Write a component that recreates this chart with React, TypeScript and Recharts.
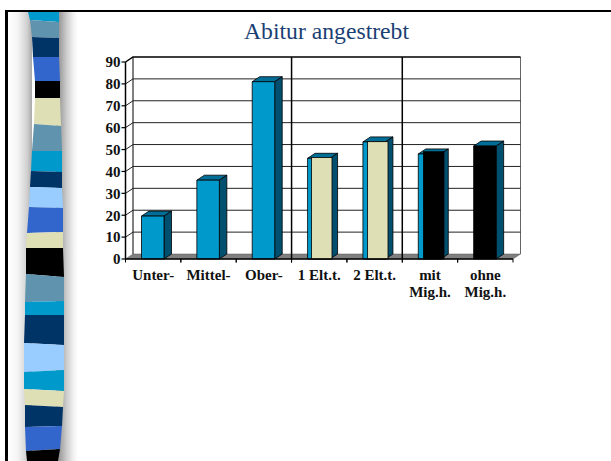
import React from 'react'
import { ComposedChart, Bar, XAxis, YAxis, CartesianGrid, ReferenceLine } from 'recharts'

const categories = ['Unter-', 'Mittel-', 'Ober-', '1 Elt.t.', '2 Elt.t.', 'mit\nMig.h.', 'ohne\nMig.h.']
const baseValues = [19.6, 36, 81, 46, 53.5, 48, 51.6]
const overlayValues = [null, null, null, 46.4, 53.6, 49, null]
const yTicks = [0, 10, 20, 30, 40, 50, 60, 70, 80, 90]
const groupStarts = ['1 Elt.t.', 'mit\nMig.h.']

const data = categories.map((name, i) => ({ name, base: baseValues[i], overlay: overlayValues[i] }))

const W = 611
const H = 461
const PLOT_LEFT = 125.5
const PLOT_RIGHT = 513
const PLOT_TOP = 62
const PLOT_BOTTOM = 259
const DX = 7.5
const DY = 5
const BAND = (PLOT_RIGHT - PLOT_LEFT) / categories.length

const BLUE = '#0099cc'
const TOP = '#006e96'
const SIDE = '#004f6e'
const CREAM = '#dfdfb5'
const FONT = '"Liberation Serif", serif'

const overlayFills = [CREAM, CREAM, CREAM, CREAM, CREAM, '#000', CREAM]
const baseFills = [BLUE, BLUE, BLUE, BLUE, BLUE, BLUE, '#000']

// ribbon edges down the left of the slide: yLeft, yRight, xLeft, xRight
const ribbonEdges = [
  [12, 12, 28, 59], [20, 22, 30, 59], [37, 38, 32, 59], [57, 57, 33, 59], [81, 81, 35, 60],
  [98, 98, 35, 60], [124, 126, 34, 61], [151, 151, 32, 62], [171, 172, 31, 62], [187, 188, 30, 62],
  [207, 208, 29, 63], [233, 232, 27, 63], [248, 248, 26, 63], [274, 277, 26, 64], [302, 301, 25, 64],
  [315, 315, 25, 64], [343, 345, 24, 64], [372, 370, 24, 64], [389, 391, 24, 64], [405, 407, 25, 63],
  [427, 426, 25, 62], [451, 449, 26, 60], [461, 461, 27, 58],
]
const ribbonColors = [
  '#0099cc', '#5f93ae', '#003366', '#3366cc', '#000000', '#dfdfb5', '#5f93ae', '#0099cc', '#003366',
  '#99ccff', '#3366cc', '#dfdfb5', '#000000', '#5f93ae', '#0099cc', '#003366', '#99ccff', '#0099cc',
  '#dfdfb5', '#003366', '#3366cc', '#000000',
]

function Bar3D(props: any) {
  const { x, y, width, height, payload } = props
  if (height == null || height <= 0) return null
  const fill = baseFills[categories.indexOf(payload.name)]
  return (
    <g stroke="#000" strokeWidth={0.8} strokeLinejoin="round">
      <polygon fill={TOP} points={`${x},${y} ${x + DX},${y - DY} ${x + width + DX},${y - DY} ${x + width},${y}`} />
      <polygon fill={SIDE} points={`${x + width},${y} ${x + width + DX},${y - DY} ${x + width + DX},${y + height - DY} ${x + width},${y + height}`} />
      <rect x={x} y={y} width={width} height={height} fill={fill} />
    </g>
  )
}

function OverlayFront(props: any) {
  const { x, y, width, height, payload } = props
  if (height == null || height <= 0) return null
  return <rect x={x} y={y} width={width} height={height} fill={overlayFills[categories.indexOf(payload.name)]} stroke="#000" strokeWidth={0.8} />
}

function gridLine(p: any) {
  const { x1, x2, y1, key } = p
  const isFloor = Math.abs(y1 - PLOT_BOTTOM) < 0.5
  const back = y1 - DY
  if (isFloor) {
    return (
      <g key={key}>
        <line x1={x2 + DX} y1={PLOT_TOP - DY} x2={x2 + DX} y2={back} stroke="#666" strokeWidth={1} />
        <line x1={x1 + DX} y1={PLOT_TOP - DY} x2={x1 + DX} y2={back} stroke="#000" strokeWidth={1} />
        <polygon points={`${x1},${y1} ${x1 + DX},${back} ${x2 + DX},${back} ${x2},${y1}`} fill="#808080" stroke="#555" strokeWidth={0.5} />
      </g>
    )
  }
  return (
    <polyline
      key={key}
      points={`${x1},${y1} ${x1 + DX},${back} ${x2 + DX},${back}`}
      fill="none"
      stroke={y1 <= PLOT_TOP + 0.5 ? '#000' : '#222'}
      strokeWidth={y1 <= PLOT_TOP + 0.5 ? 1.5 : 1}
    />
  )
}

function GroupLine(props: any) {
  const { x1 } = props
  return <line x1={x1} y1={PLOT_TOP - DY} x2={x1} y2={PLOT_BOTTOM} stroke="#000" strokeWidth={1.5} />
}

function CategoryTick(props: any) {
  const { x, payload } = props
  const lines = String(payload.value).split('\n')
  const left = x - BAND / 2
  return (
    <g>
      <line x1={left} y1={PLOT_BOTTOM} x2={left} y2={PLOT_BOTTOM + 3.5} stroke="#000" strokeWidth={1} />
      <line x1={left + BAND} y1={PLOT_BOTTOM} x2={left + BAND} y2={PLOT_BOTTOM + 3.5} stroke="#000" strokeWidth={1} />
      {lines.map((line, i) => (
        <text key={line} x={x} y={280 + i * 17} textAnchor="middle" fontFamily={FONT} fontWeight="bold" fontSize={15} fill="#111">
          {line}
        </text>
      ))}
    </g>
  )
}

function SlideBackdrop() {
  return (
    <>
      <div style={{ position: 'absolute', left: 8, top: 12, width: 24, height: H - 12, background: 'linear-gradient(to right, #ffffff, #f4f4f4 40%, #d0d0d0 80%, #a8a8a8)' }} />
      <div style={{ position: 'absolute', left: 56, top: 12, width: 22, height: H - 12, background: 'linear-gradient(to right, #9a9a9a 15%, #c8c8c8 45%, #f2f2f2 80%, #ffffff)' }} />
      <svg width={W} height={H} style={{ position: 'absolute', left: 0, top: 0 }}>
        {ribbonColors.map((color, i) => {
          const a = ribbonEdges[i]
          const b = ribbonEdges[i + 1]
          return <polygon key={i} fill={color} points={`${a[2]},${a[0]} ${a[3]},${a[1]} ${b[3]},${b[1]} ${b[2]},${b[0]}`} />
        })}
      </svg>
      <div style={{ position: 'absolute', left: 5, top: 10, width: 3, height: H - 10, background: '#000' }} />
      <div style={{ position: 'absolute', left: 5, top: 10, width: W - 5, height: 2, background: '#000' }} />
      <div style={{ position: 'absolute', left: 42, top: 17, width: W - 42, textAlign: 'center', fontFamily: FONT, fontSize: 23.7, color: '#1a3f73', lineHeight: '28px' }}>
        Abitur angestrebt
      </div>
    </>
  )
}

export default function App() {
  return (
    <div style={{ position: 'fixed', left: 0, top: 0, width: W, height: H, overflow: 'hidden', background: '#fff' }}>
      <SlideBackdrop />
      <div style={{ position: 'absolute', left: 0, top: 0 }}>
        <ComposedChart
          width={W}
          height={H}
          data={data}
          margin={{ top: PLOT_TOP, right: W - PLOT_RIGHT, bottom: H - PLOT_BOTTOM - 40, left: PLOT_LEFT - 40 }}
        >
          <CartesianGrid vertical={false} horizontal={gridLine} />
          <XAxis
            dataKey="name"
            height={40}
            interval={0}
            tickLine={false}
            tick={<CategoryTick />}
            axisLine={{ stroke: '#000', strokeWidth: 1.5 }}
          />
          <XAxis dataKey="name" xAxisId="overlay" hide padding={{ left: 0, right: -4.5 }} />
          <YAxis
            width={40}
            domain={[0, 90]}
            ticks={yTicks}
            interval={0}
            tickSize={4}
            tickMargin={1}
            tickLine={{ stroke: '#000', strokeWidth: 1.2 }}
            axisLine={{ stroke: '#000', strokeWidth: 1.5 }}
            tick={{ fontFamily: FONT, fontWeight: 'bold', fontSize: 15, fill: '#111' }}
          />
          {groupStarts.map((name) => (
            <ReferenceLine key={name} x={name} position="start" shape={<GroupLine />} />
          ))}
          <Bar dataKey="base" barSize={22.5} shape={<Bar3D />} isAnimationActive={false} />
          <Bar dataKey="overlay" xAxisId="overlay" barSize={20.5} shape={<OverlayFront />} isAnimationActive={false} />
        </ComposedChart>
      </div>
    </div>
  )
}
